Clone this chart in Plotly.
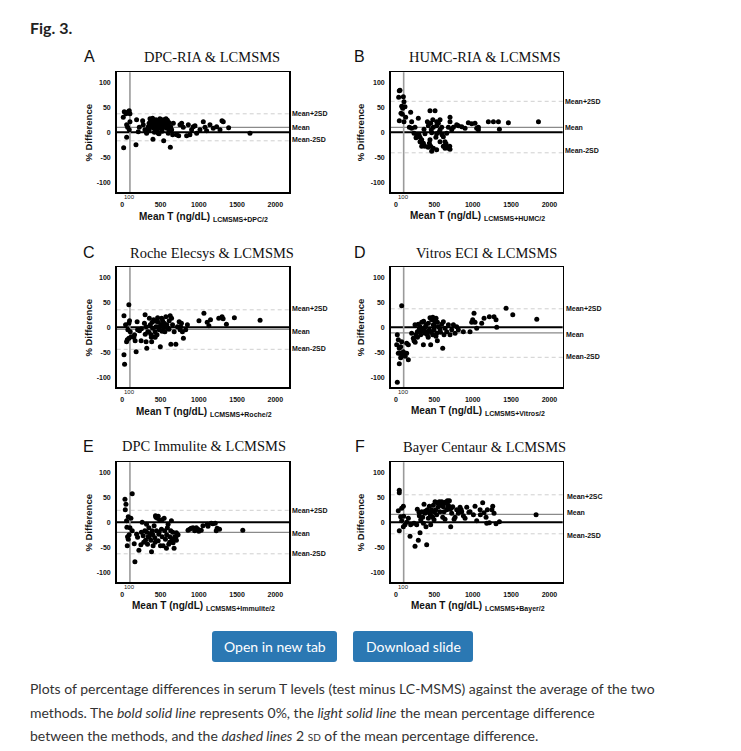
import plotly.graph_objects as go

W, H = 741, 751
PAD = 8  # browser body margin around the plot div
FW, FH = W - 2 * PAD, H - 2 * PAD

# ---------------- data ----------------
panel_letters = ["A", "B", "C", "D", "E", "F"]
panel_titles = ["DPC-RIA & LCMSMS", "HUMC-RIA & LCMSMS", "Roche Elecsys & LCMSMS",
                "Vitros ECI & LCMSMS", "DPC Immulite & LCMSMS", "Bayer Centaur & LCMSMS"]
x_subscripts = ["LCMSMS+DPC/2", "LCMSMS+HUMC/2", "LCMSMS+Roche/2",
                "LCMSMS+Vitros/2", "LCMSMS+Immulite/2", "LCMSMS+Bayer/2"]
mean_diff = [10, 10, -4, -11, -20, 16]
upper_2sd = [37, 62, 35, 37, 24, 55]
lower_2sd = [-17, -41, -44, -60, -63, -23]
upper_labels = ["Mean+2SD", "Mean+2SD", "Mean+2SD", "Mean+2SD", "Mean+2SD", "Mean+2SC"]
x_ticks = [0, 500, 1000, 1500, 2000]
y_ticks = [100, 50, 0, -50, -100]
ref_x = 100

a_mean = [13, 26, 48, 78, 91, 100, 57, 70, 57, 18, 100, 91,
          187, 179, 222, 209, 266, 274, 296, 318, 340, 362, 370, 383, 396, 401, 414, 427, 440, 449,
          457, 470, 484, 492, 505, 514, 527, 536, 541, 558, 571, 579, 588, 601, 614, 628, 632, 645,
          658, 667, 710, 737, 754, 776, 797, 841, 863, 884, 906, 928, 950, 972, 1015, 1059, 1081,
          1102, 1146, 1189, 1233, 1277, 1303, 1320, 1390, 1669,
          350, 380, 410, 430, 460, 475, 500, 520, 545, 560, 590, 610, 350, 420, 480, 520, 400, 445, 500, 560]
a_diff = [30, 41, 37, 41, 43, 37, 15, 10, -10, -31, 21, 5,
          25, -25, 10, 1, 23, 15, 5, -2, 11, 27, 21, 18, 28, -14, 8, 15, 25, 5,
          19, -2, 11, 27, 18, 5, 15, 25, -17, 21, 27, 8, 15, -2, 19, -30, 11, 5,
          -5, 18, -5, -7, 15, 18, 10, -7, 15, -5, 5, 11, 13, -2, 5, 21, 10,
          3, 15, 8, 11, 5, 23, 21, 9, -2,
          18, 10, 22, 12, 14, 8, 22, 12, 20, 10, 24, 6, 4, 0, -3, 2, 16, 20, 10, 17]

b_mean = [43, 52, 35, 96, 104, 74, 87, 117, 65, 83, 126, 43, 104, 191, 204, 174, 204, 248, 235, 270,
          261, 291, 313, 313, 335, 357, 378, 335, 365, 409, 422, 443, 509, 452, 487, 465, 443, 452, 465, 487,
          530, 435, 378, 530, 530, 552, 574, 596, 530, 574, 617, 639, 661, 683, 704, 704, 652, 574, 617, 639,
          661, 683, 704, 726, 748, 791, 813, 857, 900, 943, 987, 1030, 1052, 1074, 1074, 1204, 1270, 1335,
          1348, 1465, 1857,
          300, 330, 350, 420, 460, 520, 600, 700, 560, 480]
b_diff = [83, 84, 70, 71, 61, 52, 48, 51, 38, 36, 30, 23, 21, 40, 21, 10, 8, 10, -2, -5,
          -11, 28, -10, -19, -15, -22, -28, -28, 6, 21, 13, 43, 43, 18, 10, -1, -15, -28, -38, -32,
          -35, -22, -3, -3, 13, 18, 5, 10, 21, 25, -9, -19, -2, 10, 21, 30, -23, -19, -28, -32,
          -30, -32, -34, 5, 10, 15, 13, 11, 8, 19, 17, 18, 8, 10, 5, 21, 21, 21,
          6, 19, 21,
          -5, -20, -25, -30, 5, -10, -5, -28, 0, 25]

c_mean = [22, 30, 22, 86, 95, 86, 43, 73, 104, 56, 65, 86, 117, 160, 168, 181, 194, 225, 246, 289,
          298, 311, 311, 320, 333, 354, 367, 376, 384, 397, 410, 419, 428, 441, 454, 462, 471, 484, 497, 505,
          514, 527, 540, 549, 557, 570, 583, 600, 613, 626, 635, 644, 657, 678, 700, 721, 743, 756, 764, 773,
          786, 799, 829, 851, 1002, 1067, 1110, 1132, 1153, 1261, 1304, 1318, 1361, 1465, 1801,
          350, 390, 430, 470, 520, 560, 610, 440, 380, 300, 250, 200, 150]
c_diff = [23, -74, -55, 45, 13, 8, 5, -5, -9, -29, -25, -22, -19, -15, -27, -49, 11, -7, -27, 8,
          25, 1, -29, -42, -9, 18, 5, -15, -29, -2, 15, -19, -9, 1, -15, 19, 10, -5, -39, 5,
          18, 13, -2, 8, -9, 21, 5, -2, 13, 23, -34, 18, 5, -9, -34, 1, 11, -5, 1, 8,
          -9, -22, -5, 5, 13, 28, 10, 3, 15, 18, 21, 17, 6, 19, 14,
          -10, 10, -20, 0, -8, 3, -4, 12, -20, -14, -3, -5, -20]

d_mean = [17, 74, 17, 30, 9, 30, 52, 61, 74, 43, 61, 74, 43, 96, 139, 161, 139, 161, 204, 226,
          235, 248, 261, 278, 291, 304, 313, 322, 335, 348, 357, 365, 378, 391, 400, 409, 422, 435, 443, 452,
          465, 478, 487, 496, 509, 522, 530, 539, 552, 574, 596, 609, 617, 626, 639, 661, 683, 704, 726, 748,
          770, 791, 813, 878, 965, 987, 1000, 1017, 1030, 1052, 1117, 1148, 1217, 1278, 1304, 1313, 1435,
          1522, 1835,
          280, 330, 380, 420, 460, 500, 540, 580, 360, 480, 520, 250, 120, 50]
d_diff = [-110, 43, -15, -25, -35, -52, -52, -61, -55, -73, -39, -29, -42, -49, -52, -65, -32, -35, -12, -22,
          -27, 5, -15, -9, 6, -4, 1, -15, 10, -5, -35, -2, -12, 5, -9, -15, 8, -5, 19, -35,
          15, -15, 5, -5, 11, 18, -12, -27, 1, -5, 6, -42, 11, -15, -2, -9, 5, -15, -5, 5,
          -12, 1, -5, -9, -9, 10, 15, 28, 10, -2, 8, 18, 21, 21, 15, 0, 38,
          25, 16,
          -20, -8, 0, -20, -10, 3, 10, -10, 12, 20, -18, -30, -58, -40]

e_mean = [35, 48, 39, 56, 69, 78, 65, 78, 113, 130, 100, 130, 165, 156, 187, 217, 243, 260, 273, 295,
          304, 317, 330, 338, 347, 360, 373, 382, 390, 403, 416, 425, 434, 447, 460, 469, 477, 490, 499, 512,
          521, 534, 547, 555, 564, 577, 590, 599, 607, 620, 633, 642, 651, 664, 677, 685, 707, 729, 707, 859,
          881, 924, 946, 968, 989, 1032, 1054, 1110, 1162, 1184, 1215, 1228, 1271, 1575,
          440, 470, 520, 200, 250, 280, 320, 350, 400, 430, 480, 580, 620, 660, 700, 900, 1000, 1120, 1240, 60, 90]
e_diff = [46, 36, 25, 3, -29, -34, -47, 11, 8, 57, -11, -17, -79, -43, -24, -56, -45, 0, -27, -17,
          -36, -4, -44, -29, -11, -23, -36, -59, -17, -47, -7, -31, 13, -17, 8, -37, -24, 4, -47, -14,
          -29, -47, 8, -17, -34, -52, -11, -4, -44, -29, -17, 3, -34, -41, -52, -29, -36, -25, -21, -16,
          -14, -11, -17, -11, -14, -16, -7, -4, -2, -3, -2, -17, -14, -16,
          10, 12, 5, -30, -20, -40, -20, -30, -25, -40, -20, -25, -40, -20, -30, -12, -18, -8, -12, -10, -25]

f_mean = [43, 43, 30, 43, 61, 74, 96, 74, 96, 117, 161, 183, 191, 235, 248, 270, 278, 291, 304, 313,
          322, 335, 348, 357, 365, 378, 391, 400, 409, 422, 435, 443, 452, 465, 478, 487, 496, 509, 522, 530,
          539, 552, 565, 574, 583, 596, 609, 617, 626, 639, 652, 661, 670, 683, 696, 704, 713, 726, 739, 757,
          770, 791, 813, 835, 857, 878, 900, 922, 965, 1009, 1030, 1052, 1096, 1130, 1148, 1174, 1183, 1191,
          1217, 1261, 1278, 1304, 1348, 1826,
          560, 600, 640, 680, 720, 500, 450, 420, 380, 300, 850, 950, 1100, 1250, 100, 140]
f_diff = [64, 59, 23, -17, 11, 28, 32, 3, -9, -5, 8, -28, -5, -2, -48, -5, 26, -36, 13, -21,
          5, 21, 10, -2, 36, 18, -9, -45, 25, 8, 32, 18, -5, 25, 10, 34, 5, 41, 25, 15,
          39, 31, 41, 21, 34, 41, 10, 31, 21, 6, 38, 25, 43, 34, 43, 26, -9, 18, 31, 6,
          10, 25, 18, 30, 21, 13, 8, 30, 21, 15, 32, 3, 25, 39, 19, 10, -2, 25,
          -1, 32, 18, -3, 1, 15,
          38, 36, 40, 30, 28, 20, 14, 20, 22, 20, 25, 20, 15, 25, 12, 0]

series_mean = [a_mean, b_mean, c_mean, d_mean, e_mean, f_mean]
series_diff = [a_diff, b_diff, c_diff, d_diff, e_diff, f_diff]

caption_lines = [
    "Plots of percentage differences in serum T levels (test minus LC-MSMS) against the average of the two",
    "methods. The <i>bold solid line</i> represents 0%, the <i>light solid line</i> the mean percentage difference",
    "between the methods, and the <i>dashed lines</i> 2 <span style='font-size:10px'>SD</span> of the mean percentage difference.",
]
buttons = ["Open in new tab", "Download slide"]

# ---------------- layout geometry (window pixels) ----------------
boxes = [(116.7, 72.3, 289.3, 192.3), (390.7, 72.3, 562.7, 192.3),
         (116.7, 267.3, 289.3, 387.3), (390.7, 267.3, 562.7, 387.3),
         (116.7, 462.3, 289.3, 582.3), (390.7, 462.3, 562.7, 582.3)]
xranges = [[-73, 2183], [-69, 2173]] * 3
letter_pos = [(89, 57), (359, 57), (89, 253), (360, 253), (88.5, 446), (359.5, 446.5)]
title_pos = [(212, 57), (485, 57), (212, 253), (486, 253), (204, 446), (485, 446.5)]
xtitle_pos = [(204, 216.5), (477, 216), (204, 411.5), (477.5, 411), (203, 606), (477.5, 606)]
ytitle_x = [88.3, 360, 88.3, 360, 88.3, 360]
label_x = [290, 563, 289.5, 564, 289.5, 565]
label_off = [(0, -1, 2), (0, -1, 5), (3, -4, 2), (1, -3, 2), (-1, -2, 0), (-4, 4, -4)]
caption_y = [688.5, 712, 735.5]

SANS = "Liberation Sans, Arial, sans-serif"
SERIF = "Liberation Serif, Times New Roman, serif"
PAGE = "Lato, Source Sans Pro, sans-serif"


def X(px):
    return (px - PAD) / FW


def Y(py):
    return 1 - (py - PAD) / FH


fig = go.Figure()
layout = dict(width=FW, height=FH, margin=dict(l=0, r=0, t=0, b=0),
              paper_bgcolor="white", plot_bgcolor="rgba(0,0,0,0)", showlegend=False)
shapes = []
annotations = []

for i in range(6):
    s = "" if i == 0 else str(i + 1)
    x0, y0, x1, y1 = boxes[i]
    fig.add_trace(go.Scatter(x=series_mean[i], y=series_diff[i], mode="markers",
                             marker=dict(size=5, color="black", line=dict(width=0)),
                             xaxis="x" + s, yaxis="y" + s, hoverinfo="skip"))
    layout["xaxis" + s] = dict(domain=[X(x0), X(x1)], range=xranges[i], anchor="y" + s,
                               showline=True, mirror=True, linecolor="black", linewidth=1.6,
                               showgrid=False, zeroline=False, ticks="",
                               tickvals=x_ticks, ticktext=[str(v) for v in x_ticks],
                               tickfont=dict(family=SANS, size=7, color="#111", weight="bold"),
                               ticklabelstandoff=5, fixedrange=True)
    layout["yaxis" + s] = dict(domain=[Y(y1), Y(y0)], range=[-120, 120], anchor="x" + s,
                               showline=True, mirror=True, linecolor="black", linewidth=1.6,
                               showgrid=False, zeroline=False, ticks="",
                               tickvals=y_ticks, ticktext=[str(v) for v in y_ticks],
                               tickfont=dict(family=SANS, size=7, color="#111", weight="bold"),
                               ticklabelstandoff=3, fixedrange=True)
    xd = "x domain" if i == 0 else "x%d domain" % (i + 1)
    yd = "y domain" if i == 0 else "y%d domain" % (i + 1)
    xr = "x" + s
    yr = "y" + s
    # reference lines
    for val, col, wid, dash in [(upper_2sd[i], "#cfcfcf", 1, "4px,3px"), (lower_2sd[i], "#cfcfcf", 1, "4px,3px"),
                                (mean_diff[i], "#8a8a8a", 1.2, "solid"), (0, "black", 2, "solid")]:
        shapes.append(dict(type="line", xref=xd, yref=yr, x0=0, x1=1, y0=val, y1=val,
                           line=dict(color=col, width=wid, dash=dash), layer="below"))
    shapes.append(dict(type="line", xref=xr, yref=yd, x0=ref_x, x1=ref_x, y0=0, y1=1,
                       line=dict(color="#9a9a9a", width=1.6), layer="below"))
    # labels
    annotations.append(dict(xref="paper", yref="paper", x=X(letter_pos[i][0]), y=Y(letter_pos[i][1]),
                            text=panel_letters[i], showarrow=False, xanchor="center", yanchor="middle",
                            font=dict(family=SANS, size=16, color="#111")))
    annotations.append(dict(xref="paper", yref="paper", x=X(title_pos[i][0]), y=Y(title_pos[i][1]),
                            text=panel_titles[i], showarrow=False, xanchor="center", yanchor="middle",
                            font=dict(family=SERIF, size=14.5, color="#111")))
    annotations.append(dict(xref="paper", yref="paper", x=X(xtitle_pos[i][0]), y=Y(xtitle_pos[i][1]),
                            text="<b>Mean T (ng/dL) <sub>%s</sub></b>" % x_subscripts[i],
                            showarrow=False, xanchor="center", yanchor="middle",
                            font=dict(family=SANS, size=10, color="#111")))
    annotations.append(dict(xref="paper", yref="paper", x=X(ytitle_x[i]), y=(Y(y0) + Y(y1)) / 2,
                            text="<b>% Difference</b>", textangle=-90, showarrow=False,
                            xanchor="center", yanchor="middle",
                            font=dict(family=SANS, size=9.5, color="#111")))
    annotations.append(dict(xref=xr, yref=yd, x=ref_x, y=0, text=str(ref_x), showarrow=False,
                            xanchor="center", yanchor="top", yshift=0,
                            font=dict(family=SANS, size=6, color="#222")))
    lo = label_off[i]
    for txt, val, off in [(upper_labels[i], upper_2sd[i], lo[0]), ("Mean", mean_diff[i], lo[1]),
                          ("Mean-2SD", lower_2sd[i], lo[2])]:
        annotations.append(dict(xref="paper", yref=yr, x=X(label_x[i]), y=val + off, text="<b>%s</b>" % txt,
                                showarrow=False, xanchor="left", yanchor="middle",
                                font=dict(family=SANS, size=7, color="#111")))

# ---------------- page elements ----------------
annotations.append(dict(xref="paper", yref="paper", x=X(28), y=Y(27), text="<b>Fig. 3.</b>",
                        showarrow=False, xanchor="left", yanchor="middle",
                        font=dict(family=PAGE, size=16, color="#222")))


def rrect(x0, y0, x1, y1, r):
    pts = "M %f,%f L %f,%f Q %f,%f %f,%f L %f,%f Q %f,%f %f,%f L %f,%f Q %f,%f %f,%f L %f,%f Q %f,%f %f,%f Z" % (
        X(x0 + r), Y(y0), X(x1 - r), Y(y0), X(x1), Y(y0), X(x1), Y(y0 + r),
        X(x1), Y(y1 - r), X(x1), Y(y1), X(x1 - r), Y(y1),
        X(x0 + r), Y(y1), X(x0), Y(y1), X(x0), Y(y1 - r),
        X(x0), Y(y0 + r), X(x0), Y(y0), X(x0 + r), Y(y0))
    return pts


button_boxes = [(212, 631, 337, 662), (353, 631, 473, 662)]
for (bx0, by0, bx1, by1), txt in zip(button_boxes, buttons):
    shapes.append(dict(type="path", xref="paper", yref="paper", path=rrect(bx0, by0, bx1, by1, 3),
                       fillcolor="#2b78b3", line=dict(width=0)))
    annotations.append(dict(xref="paper", yref="paper", x=X((bx0 + bx1) / 2), y=Y((by0 + by1) / 2),
                            text=txt, showarrow=False, xanchor="center", yanchor="middle",
                            font=dict(family=PAGE, size=14, color="white")))

for k, line in enumerate(caption_lines):
    annotations.append(dict(xref="paper", yref="paper", x=X(28), y=Y(caption_y[k]), text=line,
                            showarrow=False, xanchor="left", yanchor="middle", align="left",
                            font=dict(family=PAGE, size=14, color="#333")))

layout["shapes"] = shapes
layout["annotations"] = annotations
fig.update_layout(**layout)
fig.write_html("out.html", config={"displayModeBar": False, "staticPlot": True})
